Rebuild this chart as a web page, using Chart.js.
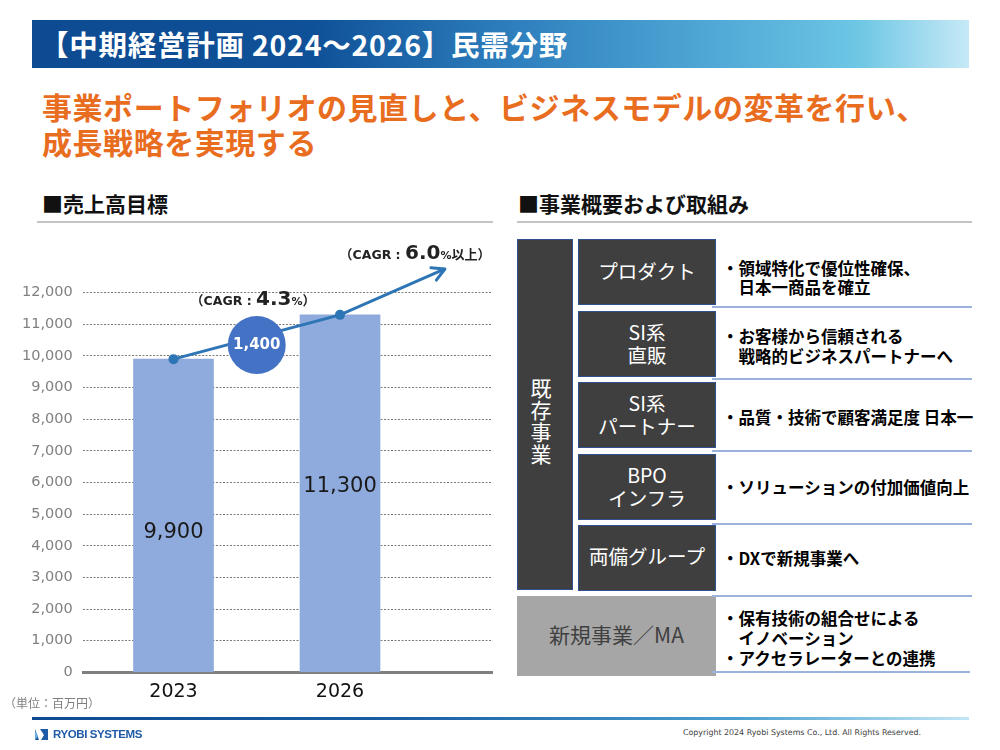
<!DOCTYPE html>
<html lang="ja">
<head>
<meta charset="utf-8">
<script src="https://cdn.jsdelivr.net/npm/chart.js@4"></script>
<style>
  html,body{margin:0;padding:0;background:#fff;}
  body{width:1000px;height:750px;position:relative;overflow:hidden;font-family:"Noto Sans CJK JP","Noto Sans",sans-serif;}
  .abs{position:absolute;white-space:nowrap;}
  #titlebar{left:32px;top:20px;width:937px;height:48px;
    background:linear-gradient(to right,#0d4a91 0%,#0f5198 30%,#2f80be 52%,#50a9d6 73%,#6cc6e4 88%,#c6e9f6 100%);}
  #titlebar span{position:absolute;left:8px;top:0;line-height:48px;color:#fff;font-weight:700;font-size:28.5px;letter-spacing:0.75px;}
  #subtitle{left:42px;top:89px;color:#E96D1F;font-weight:700;font-size:30px;line-height:35px;letter-spacing:0.55px;}
  .head{font-weight:700;font-size:21px;line-height:26px;color:#111;}
  .uline{height:2px;background:#c4c4c4;}
  .dbox{background:#3f3f3f;border:1.5px solid #2f528f;box-sizing:border-box;color:#fff;
    display:flex;align-items:center;justify-content:center;text-align:center;font-size:19.5px;line-height:23px;}
  .sep{height:2px;background:#9ab2dc;}
  .rtxt{font-weight:700;font-size:16.5px;line-height:19.5px;color:#000;}
  #chartwrap{left:0;top:230px;width:500px;height:480px;}
  .cagr{font-weight:700;color:#222;transform:translate(-50%,-50%);font-family:"DejaVu Sans","Noto Sans CJK JP",sans-serif;}
  .cagr .p{font-family:"Noto Sans CJK JP";font-size:13px;}
  .cagr .s{font-size:12.5px;}
  .cagr .b{font-size:20px;}
  .cagr .pc{font-size:11px;}
  .cagr .j{font-family:"Noto Sans CJK JP";font-size:13px;}
</style>
</head>
<body>
<div id="titlebar" class="abs"><span>【中期経営計画 2024～2026】民需分野</span></div>
<div id="subtitle" class="abs">事業ポートフォリオの見直しと、ビジネスモデルの変革を行い、<br>成長戦略を実現する</div>

<div class="abs head" style="left:42px;top:190px;">■売上高目標</div>
<div class="abs uline" style="left:37px;top:221px;width:456px;"></div>
<div class="abs head" style="left:518px;top:190px;">■事業概要および取組み</div>
<div class="abs uline" style="left:517px;top:221px;width:455px;"></div>

<div id="chartwrap" class="abs"><canvas id="c" width="500" height="480"></canvas></div>

<div class="abs cagr" style="left:253px;top:298px;"><span class="p">（</span><span class="s">CAGR : </span><span class="b">4.3</span><span class="pc">%</span><span class="p">）</span></div>
<div class="abs cagr" style="left:415px;top:252px;"><span class="p">（</span><span class="s">CAGR : </span><span class="b">6.0</span><span class="pc">%</span><span class="j">以上</span><span class="p">）</span></div>
<div class="abs" style="left:4px;top:694px;font-size:12px;line-height:18px;color:#7f7f7f;">（単位：百万円）</div>

<!-- right panel -->
<div class="abs dbox" style="left:517px;top:239px;width:56px;height:351px;font-size:21px;line-height:22px;"><div style="margin-left:-8px;margin-top:10px;">既<br>存<br>事<br>業</div></div>
<div class="abs dbox" style="left:578px;top:239px;width:138px;height:66px;"><div style="margin-top:-4px;">プロダクト</div></div>
<div class="abs dbox" style="left:578px;top:310.5px;width:138px;height:66px;"><div style="margin-top:-2px;">SI系<br>直販</div></div>
<div class="abs dbox" style="left:578px;top:382px;width:138px;height:66px;"><div style="margin-top:-2px;">SI系<br>パートナー</div></div>
<div class="abs dbox" style="left:578px;top:453.5px;width:138px;height:66px;"><div style="margin-top:-2px;">BPO<br>インフラ</div></div>
<div class="abs dbox" style="left:578px;top:525px;width:138px;height:66px;"><div style="margin-top:-5px;">両備グループ</div></div>
<div class="abs dbox" style="left:517px;top:596px;width:199px;height:80px;background:#a6a6a6;border:none;color:#404040;font-size:21px;"><div style="margin-top:-3px;">新規事業／MA</div></div>

<div class="abs sep" style="left:712px;top:305.5px;width:260px;"></div>
<div class="abs sep" style="left:712px;top:378px;width:260px;"></div>
<div class="abs sep" style="left:712px;top:450px;width:260px;"></div>
<div class="abs sep" style="left:712px;top:522.5px;width:260px;"></div>
<div class="abs sep" style="left:712px;top:595px;width:260px;"></div>
<div class="abs sep" style="left:712px;top:671px;width:258px;"></div>

<div class="abs rtxt" style="left:722px;top:258.5px;">・領域特化で優位性確保、<br>　日本一商品を確立</div>
<div class="abs rtxt" style="left:722px;top:327px;">・お客様から信頼される<br>　戦略的ビジネスパートナーへ</div>
<div class="abs rtxt" style="left:722px;top:407.5px;">・品質・技術で顧客満足度 日本一</div>
<div class="abs rtxt" style="left:722px;top:477.5px;">・ソリューションの付加価値向上</div>
<div class="abs rtxt" style="left:722px;top:548.5px;">・DXで新規事業へ</div>
<div class="abs rtxt" style="left:722px;top:607.5px;line-height:20.3px;">・保有技術の組合せによる<br>　イノベーション<br>・アクセラレーターとの連携</div>

<!-- footer -->
<div class="abs" style="left:32px;top:716.5px;width:937px;height:3px;background:linear-gradient(to right,#0d4a91 0%,#1a5fa3 40%,#4a9fd0 75%,#c2e6f5 100%);"></div>
<svg class="abs" style="left:35px;top:729px;" width="13" height="11" viewBox="0 0 13 11">
  <polygon points="0,0 13,0 13,11 0,11" fill="#1f5aa6"/>
  <polygon points="0,0 5,0 9,6 6,11 4,11 " fill="#fff"/>
  <polygon points="0,2 3,7 0,11" fill="#6aaee0"/>
</svg>
<div class="abs" style="left:53px;top:726px;font-family:'Liberation Sans',Arial,sans-serif;font-weight:700;font-size:11.5px;line-height:16px;color:#1f5aa6;letter-spacing:-0.4px;">RYOBI SYSTEMS</div>
<div class="abs" style="left:683px;top:727px;font-family:'DejaVu Sans',sans-serif;font-size:7.9px;line-height:12px;color:#404040;">Copyright 2024 Ryobi Systems Co., Ltd. All Rights Reserved.</div>

<script>
// ---- data ----
const categories = ['2023', '2026'];
const categoryPos = [1, 2];
const salesValues = [9900, 11300];
const trendX = [1, 2, 2.63];
const trendValues = [9900, 11300, 12750];
const yMin = 0, yMax = 12000, yStep = 1000;

// label anchor fractions (placement only)
const labelFrac = [0.445, 0.52];

const fmt = v => Number(v).toLocaleString('en-US');

const annot = {
  id: 'annot',
  afterDraw(chart) {
    const ctx = chart.ctx;
    const ys = chart.scales.y;
    const bars = chart.getDatasetMeta(0).data;
    ctx.save();
    ctx.font = '21px "DejaVu Sans", sans-serif';
    ctx.fillStyle = '#1a1a1a';
    ctx.textAlign = 'center';
    ctx.textBaseline = 'middle';
    bars.forEach((b, i) => {
      ctx.fillText(fmt(salesValues[i]), b.x, ys.getPixelForValue(salesValues[i] * labelFrac[i]));
    });
    ctx.restore();

    const pts = chart.getDatasetMeta(1).data;
    const a = pts[pts.length - 2], b = pts[pts.length - 1];
    const ang = Math.atan2(b.y - a.y, b.x - a.x);
    const L = 14, W = 0.5;
    ctx.save();
    ctx.strokeStyle = '#2E75B6';
    ctx.lineWidth = 3;
    ctx.lineCap = 'round';
    ctx.lineJoin = 'round';
    ctx.beginPath();
    ctx.moveTo(b.x - L * Math.cos(ang - W), b.y - L * Math.sin(ang - W));
    ctx.lineTo(b.x, b.y);
    ctx.lineTo(b.x - L * Math.cos(ang + W), b.y - L * Math.sin(ang + W));
    ctx.stroke();
    ctx.restore();

    const p0 = pts[0], p1 = pts[1];
    const cx = (bars[0].x + bars[1].x) / 2;
    const cy = (p0.y + p1.y) / 2 + 8;
    ctx.save();
    ctx.fillStyle = '#4472C4';
    ctx.beginPath();
    ctx.arc(cx, cy, 29, 0, Math.PI * 2);
    ctx.fill();
    ctx.fillStyle = '#fff';
    ctx.font = 'bold 15px "DejaVu Sans", sans-serif';
    ctx.textAlign = 'center';
    ctx.textBaseline = 'middle';
    ctx.fillText(fmt(salesValues[1] - salesValues[0]), cx, cy);
    ctx.restore();
  }
};

new Chart(document.getElementById('c'), {
  type: 'bar',
  data: {
    datasets: [
      {
        type: 'bar',
        data: categoryPos.map((x, i) => ({ x, y: salesValues[i] })),
        backgroundColor: '#8FAADC',
        barThickness: 80,
        order: 2
      },
      {
        type: 'line',
        data: trendX.map((x, i) => ({ x, y: trendValues[i] })),
        borderColor: '#2E75B6',
        backgroundColor: '#2E75B6',
        borderWidth: 3,
        pointRadius: [5, 5, 0],
        pointBorderWidth: 0,
        tension: 0,
        clip: false,
        order: 1
      }
    ]
  },
  plugins: [annot],
  options: {
    responsive: false,
    animation: false,
    events: [],
    layout: { padding: { top: 62.7, right: 7.3, left: 0, bottom: 0 } },
    plugins: { legend: { display: false }, tooltip: { enabled: false } },
    scales: {
      x: {
        type: 'linear',
        offset: false,
        bounds: 'data',
        min: 0.4583,
        max: 2.917,
        z: 1,
        afterBuildTicks: s => { s.ticks = categoryPos.map(v => ({ value: v })); },
        afterFit: s => { s.height = 37.7; },
        grid: { display: false, drawTicks: false },
        border: { display: true, color: '#7f7f7f', width: 3 },
        ticks: {
          padding: 8,
          color: '#111',
          font: { family: 'DejaVu Sans', size: 19 },
          callback: v => { const i = categoryPos.indexOf(v); return i >= 0 ? categories[i] : ''; }
        }
      },
      y: {
        min: yMin,
        max: yMax,
        z: 1,
        afterFit: s => { s.width = 83.3; },
        grid: {
          drawTicks: false,
          color: c => (c.tick && c.tick.value === 0) ? 'rgba(0,0,0,0)' : '#7a7a7a',
          lineWidth: 1
        },
        border: { display: false, dash: [2, 1.5] },
        ticks: {
          stepSize: yStep,
          padding: 10.5,
          color: '#808080',
          font: { family: 'DejaVu Sans', size: 14.5 },
          callback: v => fmt(v)
        }
      }
    }
  }
});
</script>
</body>
</html>
